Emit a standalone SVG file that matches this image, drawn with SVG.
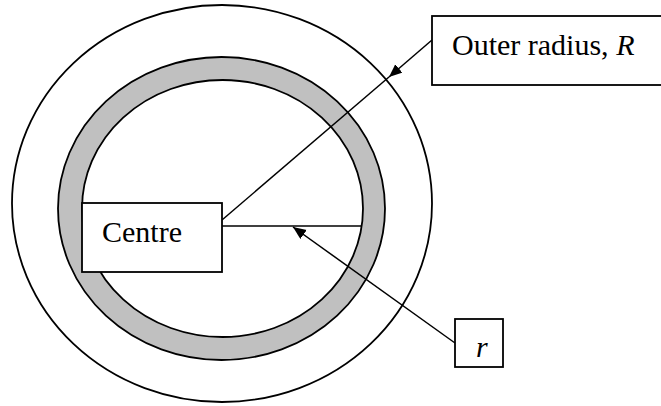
<svg xmlns="http://www.w3.org/2000/svg" width="661" height="406" viewBox="0 0 661 406">
<style>
.ln{stroke:#000;stroke-width:1.5;fill:none}
.box{stroke:#000;stroke-width:1.8;fill:#fff}
.t{font-family:"Liberation Serif","Times New Roman",serif;font-size:30px;fill:#000}
</style>
<defs>
<marker id="ah" markerUnits="userSpaceOnUse" markerWidth="14" markerHeight="12" refX="13" refY="5.5" orient="auto">
<path d="M0,0 L13,5.5 L0,11 z" fill="#000"/>
</marker>
</defs>
<rect width="661" height="406" fill="#fff"/>
<g id="rings">
<ellipse cx="222" cy="203.5" rx="210" ry="198.5" fill="#fff" stroke="#000" stroke-width="1.8"/>
<ellipse cx="221.5" cy="208.5" rx="163.5" ry="151.5" fill="#c0c0c0" stroke="#000" stroke-width="1.8"/>
<ellipse cx="222.5" cy="208.5" rx="140.5" ry="128.5" fill="#fff" stroke="#000" stroke-width="1.8"/>
</g>
<g id="connectors">
<line class="ln" x1="222" y1="220" x2="389" y2="77"/>
<line class="ln" x1="432" y1="40" x2="389" y2="77" marker-end="url(#ah)"/>
<line class="ln" x1="222" y1="226" x2="362" y2="226"/>
<line class="ln" x1="455" y1="343" x2="293" y2="227" marker-end="url(#ah)"/>
</g>
<g id="centre">
<rect class="box" x="82" y="203" width="140" height="69"/>
<text class="t" x="102" y="242">Centre</text>
</g>
<g id="outer-radius">
<rect class="box" x="432" y="16" width="240" height="69"/>
<text class="t" x="452" y="55">Outer radius, <tspan font-style="italic">R</tspan></text>
</g>
<g id="r-label">
<rect class="box" x="455" y="319" width="48" height="48"/>
<text class="t" x="476" y="357" font-style="italic">r</text>
</g>
</svg>
